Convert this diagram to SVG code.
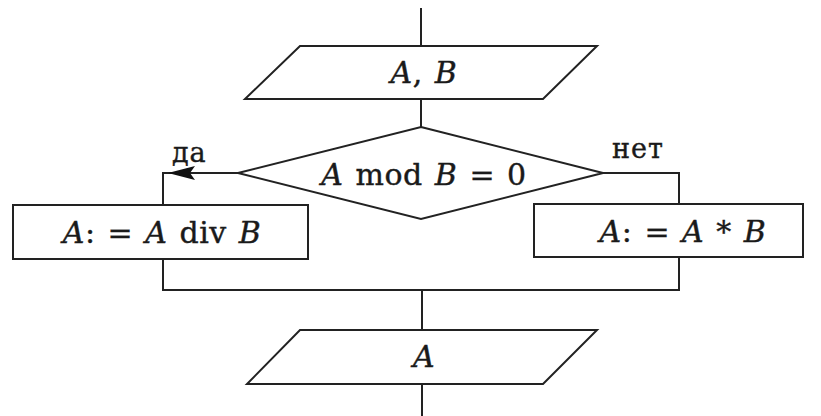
<svg xmlns="http://www.w3.org/2000/svg" width="821" height="416" viewBox="0 0 821 416">
<defs>
<style>
.s{fill:#fff;stroke:#222;stroke-width:2}
.c{fill:none;stroke:#222;stroke-width:2}
.t{font-size:30px;fill:#1a1a1a;stroke:#1a1a1a;stroke-width:0.4;text-anchor:middle;letter-spacing:0.5px;word-spacing:2px}
.l{font-size:27px;fill:#1a1a1a;stroke:#1a1a1a;stroke-width:0.4;letter-spacing:1px}
.i{font-style:italic}
</style>
</defs>
<rect width="821" height="416" fill="#fff"/>
<g id="connectors">
<line class="c" x1="421" y1="8" x2="421" y2="46"/>
<line class="c" x1="421" y1="99" x2="421" y2="127"/>
<polyline class="c" points="238,173 163,173 163,205"/>
<polygon points="168,173 195,166 190,173 195,180" fill="#111"/>
<polyline class="c" points="603,173 679,173 679,204"/>
<polyline class="c" points="163,259 163,290 679,290 679,257"/>
<line class="c" x1="422" y1="290" x2="422" y2="330"/>
<line class="c" x1="422" y1="384" x2="422" y2="416"/>
</g>
<g font-family="'DejaVu Serif', 'Liberation Serif', serif">
<g id="input">
<polygon class="s" points="300,46 597,46 543,99 245,99"/>
<text class="t" x="424" y="83"><tspan class="i">A</tspan>, <tspan class="i">B</tspan></text>
</g>
<g id="decision">
<polygon class="s" points="421,127 603,173 421,219 238,173"/>
<text class="t" x="424" y="185"><tspan class="i">A</tspan> mod <tspan class="i">B</tspan> = 0</text>
<text class="l" x="172" y="162">да</text>
<text class="l" x="612" y="158">нет</text>
</g>
<g id="yes-box">
<rect class="s" x="13" y="205" width="295" height="54"/>
<text class="t" x="162" y="243"><tspan class="i">A</tspan>: = <tspan class="i">A</tspan> div <tspan class="i">B</tspan></text>
</g>
<g id="no-box">
<rect class="s" x="534" y="204" width="269" height="53"/>
<text class="t" x="683" y="242"><tspan class="i">A</tspan>: = <tspan class="i">A</tspan> * <tspan class="i">B</tspan></text>
</g>
<g id="output">
<polygon class="s" points="300,330 597,330 543,384 247,384"/>
<text class="t i" x="424" y="367">A</text>
</g>
</g>
</svg>
